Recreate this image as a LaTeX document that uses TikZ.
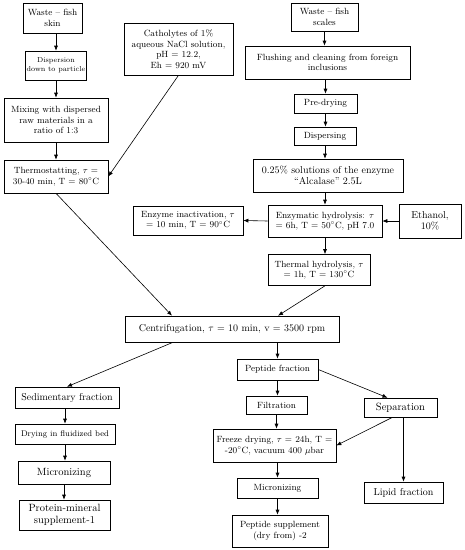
\documentclass[tikz,border=0pt]{standalone}
\usetikzlibrary{arrows.meta}
\begin{document}
\begin{tikzpicture}[x=1pt,y=-1pt,line width=0.6pt,>={Latex[length=5pt,width=4pt]},
    box/.style={draw,align=center,inner sep=1pt,font=\fontsize{9}{10.5}\selectfont},
    smalltxt/.style={font=\fontsize{7.2}{9}\selectfont},
    midtxt/.style={font=\fontsize{8.2}{9.5}\selectfont},
    bigtxt/.style={font=\fontsize{10}{11.5}\selectfont},
    hugetxt/.style={font=\fontsize{10.5}{12}\selectfont}]
      \useasboundingbox (0,0) rectangle (465,550);

      % left branch: fish skin
      \node[box,minimum width=59,minimum height=30]  (skin)   at (52.5,18)   {Waste – fish\\skin};
      \node[box,smalltxt,minimum width=58,minimum height=29] (disp) at (56,65.5) {Dispersion\\down to particle};
      \node[box,minimum width=104,minimum height=44] (mix)    at (56,120)    {Mixing with dispersed\\raw materials in a\\ratio of 1:3};
      \node[box,minimum width=104,minimum height=33] (thermo) at (56,176.5)  {Thermostatting, $\tau$ =\\30-40 min, T = 80$^{\circ}$C};
      \node[box,minimum width=109,minimum height=52] (cath)   at (178.5,49)  {Catholytes of 1\%\\aqueous NaCl solution,\\pH = 12.2,\\Eh = 920 mV};

      % right branch: fish scales
      \node[box,minimum width=67,minimum height=28]  (scales) at (324.5,17)  {Waste – fish\\scales};
      \node[box,minimum width=165,minimum height=33] (flush)  at (327.5,62.5) {Flushing and cleaning from foreign\\inclusions};
      \node[box,minimum width=63,minimum height=19]  (predry) at (325.5,103.5) {Pre-drying};
      \node[box,minimum width=62,minimum height=18]  (dispers) at (325,136)  {Dispersing};
      \node[box,bigtxt,minimum width=150,minimum height=33] (enz) at (328,175.5) {0.25\% solutions of the enzyme\\“Alcalase” 2.5L};
      \node[box,minimum width=110,minimum height=29] (inact)  at (188,220.5) {Enzyme inactivation, $\tau$\\= 10 min, T = 90$^{\circ}$C};
      \node[box,minimum width=114,minimum height=32] (hydro)  at (325,221)   {Enzymatic hydrolysis: $\tau$\\= 6h, T = 50$^{\circ}$C, pH 7.0};
      \node[box,bigtxt,minimum width=62,minimum height=34] (eth) at (430,221) {Ethanol,\\10\%};
      \node[box,minimum width=102,minimum height=31] (therm)  at (319,270)   {Thermal hydrolysis, $\tau$\\= 1h, T = 130$^{\circ}$C};

      \node[box,bigtxt,minimum width=214,minimum height=26] (centr) at (232,329) {Centrifugation, $\tau$ = 10 min, v = 3500 rpm};

      % solid fraction
      \node[box,bigtxt,minimum width=104,minimum height=21] (sed) at (67,397.5) {Sedimentary fraction};
      \node[box,midtxt,minimum width=100,minimum height=20] (dry) at (65,434) {Drying in fluidized bed};
      \node[box,hugetxt,minimum width=92,minimum height=23] (micL) at (64,472.5) {Micronizing};
      \node[box,hugetxt,minimum width=91,minimum height=30] (prot) at (64.5,515) {Protein-mineral\\supplement-1};

      % liquid fraction
      \node[box,minimum width=81,minimum height=21]  (pept)   at (277.5,369.5) {Peptide fraction};
      \node[box,minimum width=61,minimum height=18]  (filt)   at (276.5,405)   {Filtration};
      \node[box,hugetxt,minimum width=73,minimum height=19] (sep) at (400.5,407.5) {Separation};
      \node[box,minimum width=123,minimum height=33] (freeze) at (274.5,445.5) {Freeze drying, $\tau$ = 24h, T =\\-20$^{\circ}$C, vacuum 400 $\mu$bar};
      \node[box,minimum width=81,minimum height=20]  (micR)   at (277.5,488)   {Micronizing};
      \node[box,minimum width=96,minimum height=32]  (psup)   at (280,531)     {Peptide supplement\\(dry from) -2};
      \node[box,bigtxt,minimum width=79,minimum height=21] (lipid) at (403.5,492.5) {Lipid fraction};

      \draw[->] (disp.north |- skin.south) -- (disp.north);
      \draw[->] (disp.south) -- (mix.north);
      \draw[->] (mix.south) -- (thermo.north);
      \draw[->] (cath.south) -- (thermo.east);
      \draw[->] (thermo.south) -- ([xshift=-60]centr.north);

      \draw[->] (scales.south) -- (scales.south |- flush.north);
      \draw[->] (predry.north |- flush.south) -- (predry.north);
      \draw[->] (predry.south) -- (predry.south |- dispers.north);
      \draw[->] (dispers.south) -- (dispers.south |- enz.north);
      \draw[->] (hydro.north |- enz.south) -- (hydro.north);
      \draw[->] (hydro.west) -- (inact.east);
      \draw[->] (eth.west) -- (hydro.east);
      \draw[->] (hydro.south) -- (hydro.south |- therm.north);
      \draw[->] ([xshift=6]therm.south) -- ([xshift=46]centr.north);

      \draw[->] ([xshift=-59]centr.south) -- (sed.north);
      \draw[->] (dry.north |- sed.south) -- (dry.north);
      \draw[->] (dry.south) -- (dry.south |- micL.north);
      \draw[->] (micL.south) -- (micL.south |- prot.north);

      \draw[->] (pept.north |- centr.south) -- (pept.north);
      \draw[->] (pept.south) -- (pept.south |- filt.north);
      \draw[->] (pept.east) -- ([xshift=-13]sep.north);
      \draw[->] (filt.south) -- (filt.south |- freeze.north);
      \draw[->] ([xshift=-8]sep.south) -- (freeze.east);
      \draw[->] (lipid.north |- sep.south) -- (lipid.north);
      \draw[->] (micR.north |- freeze.south) -- (micR.north);
      \draw[->] (micR.south) -- (micR.south |- psup.north);
\end{tikzpicture}
\end{document}
